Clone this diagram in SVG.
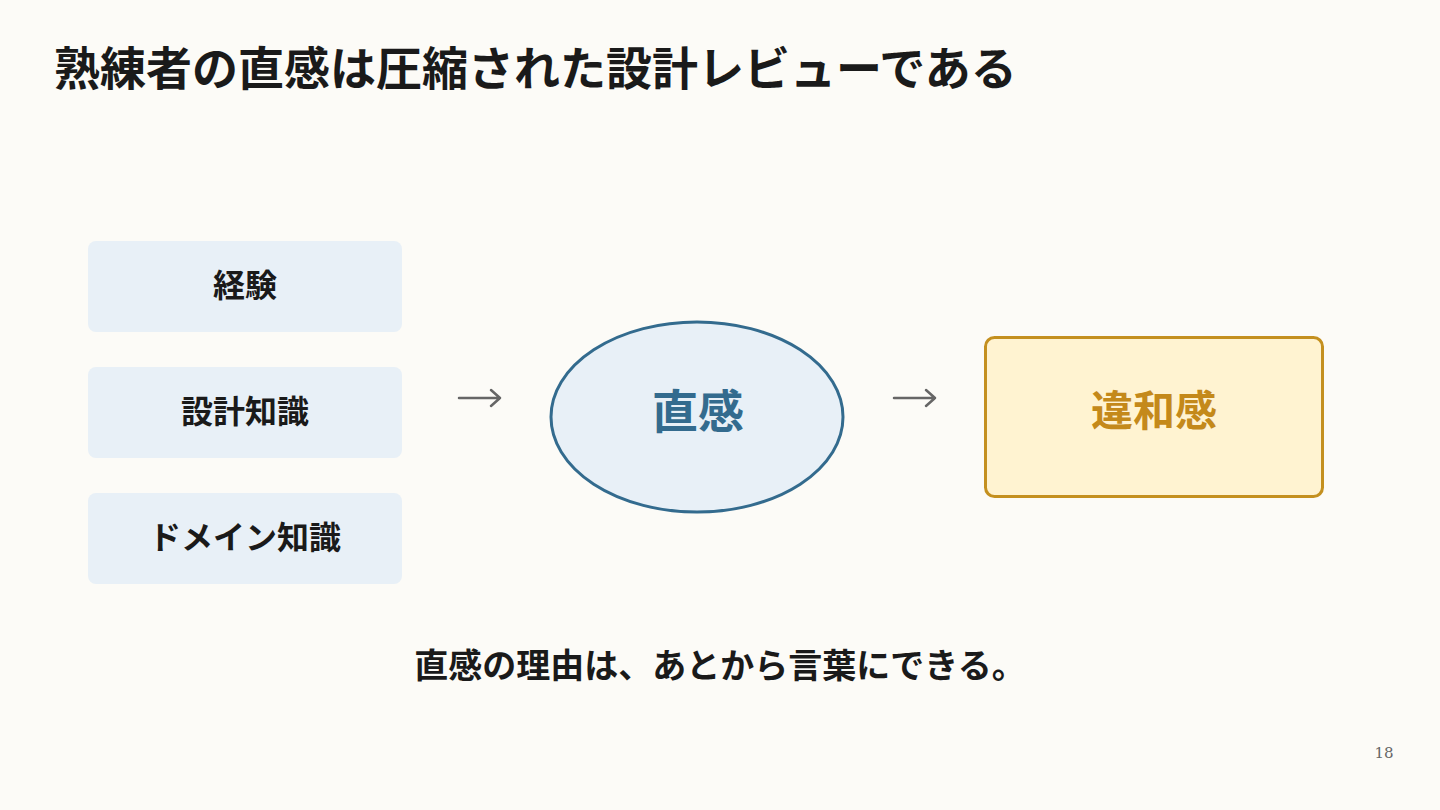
<svg xmlns="http://www.w3.org/2000/svg" width="1440" height="810" viewBox="0 0 1440 810">
<style>
.jp{font-family:"Noto Sans CJK JP","Noto Sans",sans-serif;font-weight:700}
.box{fill:#e8f0f7}
.lbl{font-size:32px;fill:#1a1a1a;text-anchor:middle}
.arr{fill:none;stroke:#666;stroke-width:2.5;stroke-linecap:round;stroke-linejoin:round}
</style>
<rect width="1440" height="810" fill="#fcfbf7"/>
<text class="jp" x="54" y="85" font-size="46" fill="#1a1a1a">熟練者の直感は圧縮された設計レビューである</text>
<g id="node-keiken">
<rect class="box" x="88" y="241" width="314" height="91" rx="8"/>
<text class="jp lbl" x="245" y="297">経験</text>
</g>
<g id="node-sekkei">
<rect class="box" x="88" y="367" width="314" height="91" rx="8"/>
<text class="jp lbl" x="245" y="423">設計知識</text>
</g>
<g id="node-domain">
<rect class="box" x="88" y="493" width="314" height="91" rx="8"/>
<text class="jp lbl" x="245" y="549">ドメイン知識</text>
</g>
<g id="node-chokkan">
<ellipse cx="697" cy="417" rx="146" ry="95" fill="#e8f0f7" stroke="#336b8e" stroke-width="3"/>
<text class="jp" x="698" y="428" font-size="46" fill="#336b8e" text-anchor="middle">直感</text>
</g>
<g id="node-iwakan">
<rect x="985.5" y="337.5" width="337" height="159" rx="9" fill="#fff3d1" stroke="#c4901f" stroke-width="3"/>
<text class="jp" x="1154" y="426" font-size="42" fill="#c4891a" text-anchor="middle">違和感</text>
</g>
<g id="connectors">
<path class="arr" d="M459 398H500M491 390L500 398L491 406"/>
<path class="arr" d="M894 398H935M926 390L935 398L926 406"/>
</g>
<text class="jp" x="720" y="678" font-size="34" fill="#1a1a1a" text-anchor="middle">直感の理由は、あとから言葉にできる。</text>
<text x="1384" y="758" font-size="15" fill="#666" text-anchor="middle" font-family="'DejaVu Serif','Liberation Serif',serif">18</text>
</svg>
